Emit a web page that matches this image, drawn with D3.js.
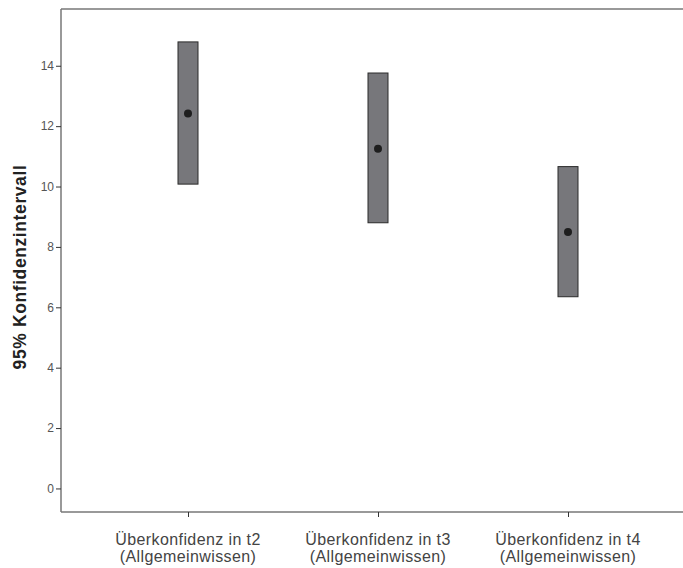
<!DOCTYPE html>
<html lang="de">
<head>
<meta charset="UTF-8">
<title>Konfidenzintervalle</title>
<script src="https://cdn.jsdelivr.net/npm/d3@7"></script>
<style>
  body { margin: 0; background: #fff; }
  svg { display: block; font-family: "Liberation Sans", Arial, sans-serif; }
</style>
</head>
<body>
<svg width="683" height="568"></svg>
<script>
    // daten
    var categories = ['Überkonfidenz in t2', 'Überkonfidenz in t3', 'Überkonfidenz in t4'];
    var subLabels = ['(Allgemeinwissen)', '(Allgemeinwissen)', '(Allgemeinwissen)'];
    var means = [12.42, 11.25, 8.49];
    var lower = [10.08, 8.80, 6.35];
    var upper = [14.79, 13.76, 10.66];
    var yTicks = [0, 2, 4, 6, 8, 10, 12, 14];

    var svg = d3.select('svg');
    // nicht "top" nennen, window.top ist schreibgeschuetzt
    var pLeft = 61, pRight = 683, pTop = 9, pBottom = 512;

    var y = d3.scaleLinear().domain([-0.78, 15.88]).range([pBottom, pTop]);
    var x = d3.scalePoint().domain(categories).range([188, 568]);

    // rahmen oben
    svg.append('line')
        .attr('x1', pLeft).attr('x2', pRight).attr('y1', pTop).attr('y2', pTop)
        .attr('stroke', '#999').attr('stroke-width', 2);

    // y achse
    var yAxis = svg.append('g')
        .attr('transform', 'translate(' + pLeft + ',0)')
        .call(d3.axisLeft(y).tickValues(yTicks).tickSize(5).tickPadding(2));
    yAxis.select('.domain').attr('stroke', '#777').attr('stroke-width', 1.5)
        .attr('d', 'M0,' + pTop + 'V' + pBottom);
    yAxis.selectAll('.tick line').attr('stroke', '#333');
    yAxis.selectAll('.tick text').attr('fill', '#555').style('font-size', '12px')
        .style('font-family', '"Liberation Sans", Arial, sans-serif');

    // x achse
    var xAxis = svg.append('g')
        .attr('transform', 'translate(0,' + pBottom + ')')
        .call(d3.axisBottom(x).tickSize(5).tickFormat(''));
    xAxis.select('.domain').attr('stroke', '#777').attr('stroke-width', 1.5)
        .attr('d', 'M' + pLeft + ',0H' + pRight);
    xAxis.selectAll('.tick line').attr('stroke', '#333');

    var lab = svg.append('g').selectAll('text')
        .data(categories)
        .enter().append('text')
        .attr('x', function(d){ return x(d) })
        .attr('y', 545)
        .attr('text-anchor', 'middle')
        .attr('fill', '#444')
        .style('font-size', '16px')
        .style('letter-spacing', '0.4px');
    lab.append('tspan').attr('x', function(d){ return x(d) }).text(function(d){ return d });
    lab.append('tspan').attr('x', function(d){ return x(d) }).attr('dy', 17)
        .text(function(d,i){ return subLabels[i] });

    // y titel
    svg.append('text')
        .attr('transform', 'translate(26,267) rotate(-90)')
        .attr('text-anchor', 'middle')
        .attr('fill', '#222')
        .style('font-size', '17.5px')
        .style('font-weight', 'bold')
        .style('letter-spacing', '0.6px')
        .text('95% Konfidenzintervall');

    // boxen
    svg.selectAll('rect.ci')
        .data(categories)
        .enter().append('rect')
        .attr('class', 'ci')
        .attr('x', function(d){ return x(d) - 10 })
        .attr('width', 20)
        .attr('y', function(d,i){ return y(upper[i]) })
        .attr('height', function(d,i){ return y(lower[i]) - y(upper[i]) })
        .attr('fill', '#77777b')
        .attr('stroke', '#2a2a2a')
        .attr('stroke-width', 1);

    svg.selectAll('circle.mean')
        .data(categories)
        .enter().append('circle')
        .attr('class', 'mean')
        .attr('cx', function(d){ return x(d) })
        .attr('cy', function(d,i){ return y(means[i]) })
        .attr('r', 4)
        .attr('fill', '#1e1e1e');
</script>
</body>
</html>
